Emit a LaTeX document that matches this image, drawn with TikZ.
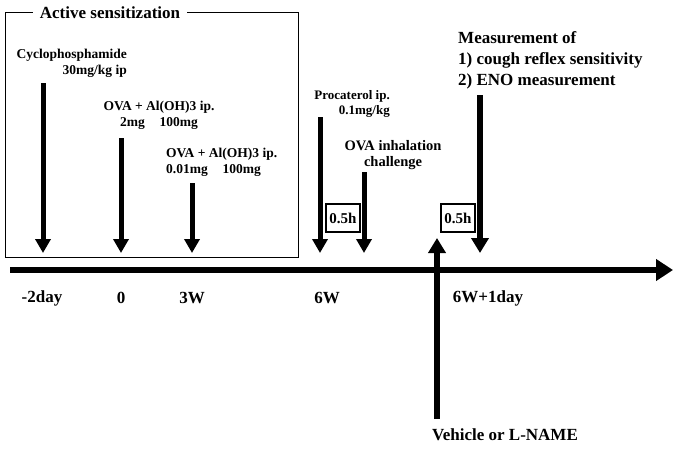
\documentclass[tikz,border=0pt]{standalone}
\usepackage{fontspec}
\setmainfont{Liberation Serif}
\usepackage{tikz}
\usetikzlibrary{arrows.meta,positioning,calc}

\tikzset{
  lbl/.style={inner sep=0pt,font=\bfseries\fontsize{13.5}{16}\selectfont},
  biglbl/.style={inner sep=0pt,font=\bfseries\fontsize{17}{21}\selectfont},
  downarr/.style={line width=5pt,-{Triangle[length=14pt,width=15pt]}},
  uparr/.style={line width=6pt,-{Triangle[length=15pt,width=17pt]}},
  axisarr/.style={line width=6pt,-{Triangle[length=17pt,width=21pt]}},
  hbox/.style={draw,line width=1.1pt,minimum width=34pt,minimum height=28pt,inner sep=0pt,font=\bfseries\fontsize{15}{17}\selectfont}
}

\begin{document}
\begin{tikzpicture}[x=1pt,y=-1pt]
\useasboundingbox (0,0) rectangle (685,452);

% sensitization frame
\draw[line width=1pt] (5,13) rectangle (298,257);
\node[biglbl,fill=white,inner xsep=7pt,inner ysep=2pt] (title) at (110,13) {Active sensitization};

% time axis
\coordinate (axL) at (10,270);
\coordinate (axR) at (673,270);
\draw[axisarr] (axL) -- (axR);

% points on the axis
\coordinate (tcyc) at (43,253);
\coordinate (tova) at (121,253);
\coordinate (tovb) at (192,253);
\coordinate (tpro) at (320,253);
\coordinate (tinh) at (364,253);
\coordinate (tveh) at (437,238);
\coordinate (tmea) at (480,253);

% labels above
\node[lbl,anchor=east,align=right] (cyclo) at (127,63) {Cyclophosphamide\\30mg/kg ip};
\node[lbl,align=center] (ovaone) at (159,115) {OVA + Al(OH)3 ip.\\2mg\hspace{1.1em}100mg};
\node[lbl,anchor=west,align=left] (ovatwo) at (166,162) {OVA + Al(OH)3 ip.\\0.01mg\hspace{1.1em}100mg};
\node[lbl,anchor=east,align=right,font=\bfseries\fontsize{13}{15.5}\selectfont] (proc) at (390,104) {Procaterol ip.\\0.1mg/kg};
\node[lbl,align=center,font=\bfseries\fontsize{14.5}{15.5}\selectfont] (inhal) at (393,155) {OVA inhalation\\challenge};
\node[biglbl,anchor=west,align=left] (meas) at (458,60) {Measurement of\\1) cough reflex sensitivity\\2) ENO measurement};

% arrows
\coordinate (scyc) at (43,83);
\coordinate (sova) at (121,138);
\coordinate (sovb) at (192,183);
\coordinate (spro) at (320,117);
\coordinate (sinh) at (364,172);
\coordinate (sveh) at (437,419);
\coordinate (smea) at (480,95);
\draw[downarr] (scyc) -- (tcyc);
\draw[downarr] (sova) -- (tova);
\draw[downarr] (sovb) -- (tovb);
\draw[downarr] (spro) -- (tpro);
\draw[downarr] (sinh) -- (tinh);
\draw[line width=6pt,-{Triangle[length=15pt,width=17pt]}] (smea) -- (tmea);
\draw[uparr] (sveh) -- (tveh);

% waiting times
\node[hbox] (waitone) at (343,218) {0.5h};
\node[hbox] (waittwo) at (458,218) {0.5h};

% labels below
\node[biglbl] (dmtwo) at (42,298) {-2day};
\node[biglbl] (dzero) at (121,298) {0};
\node[biglbl] (wthree) at (192,298) {3W};
\node[biglbl] (wsix) at (327,298) {6W};
\node[biglbl] (wsixd) at (488,298) {6W+1day};
\node[biglbl] (veh) at (505,435) {Vehicle or L-NAME};
\end{tikzpicture}
\end{document}
